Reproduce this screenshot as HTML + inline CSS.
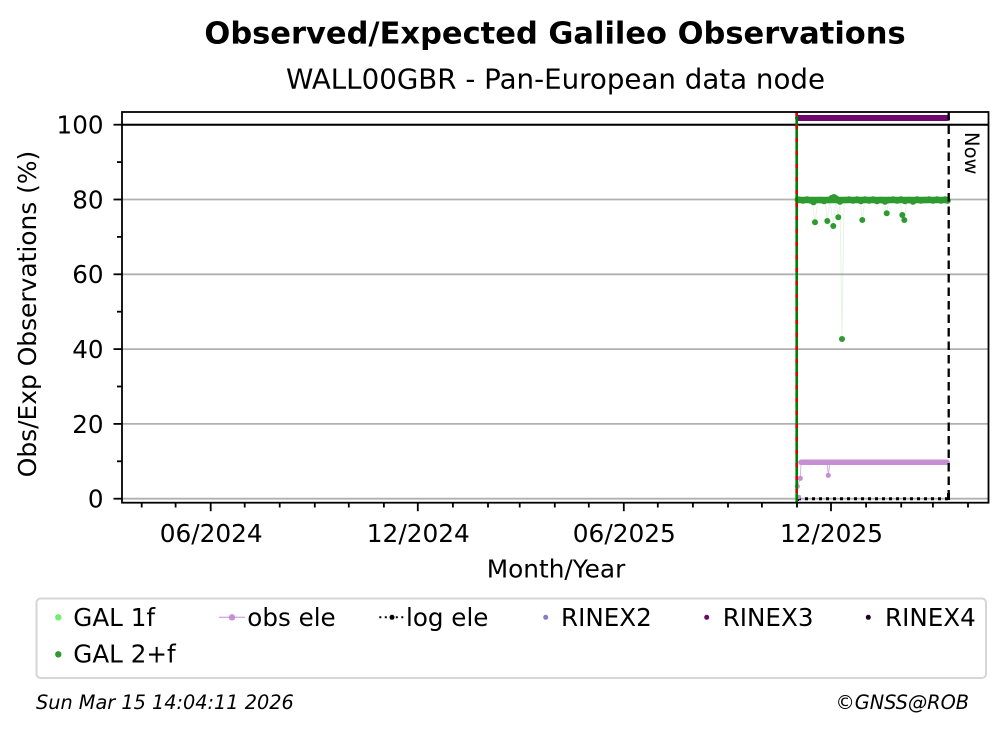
<!DOCTYPE html>
<html>
<head>
<meta charset="utf-8">
<style>
html,body{margin:0;padding:0;background:#fff;}
svg{display:block;}
text{font-family:"DejaVu Sans","Liberation Sans",sans-serif;fill:#000;}
</style>
</head>
<body>
<svg width="1008" height="734" viewBox="0 0 1008 734" xmlns="http://www.w3.org/2000/svg">
<rect x="0" y="0" width="1008" height="734" fill="#fff"/>

<!-- Titles -->
<text x="555" y="43.3" font-size="30.5" font-weight="bold" text-anchor="middle">Observed/Expected Galileo Observations</text>
<text x="555.5" y="88.3" font-size="27.7" text-anchor="middle">WALL00GBR - Pan-European data node</text>

<!-- Grid -->
<g stroke="#b0b0b0" stroke-width="1.8">
<line x1="122" y1="498.7" x2="988.5" y2="498.7"/>
<line x1="122" y1="423.9" x2="988.5" y2="423.9"/>
<line x1="122" y1="349.1" x2="988.5" y2="349.1"/>
<line x1="122" y1="274.3" x2="988.5" y2="274.3"/>
<line x1="122" y1="199.5" x2="988.5" y2="199.5"/>
<line x1="122" y1="124.7" x2="988.5" y2="124.7"/>
</g>
<!-- 100% line -->
<line x1="122" y1="124.7" x2="988.5" y2="124.7" stroke="#000" stroke-width="2"/>

<!-- log ele dotted -->
<line x1="798" y1="498.7" x2="948" y2="498.7" stroke="#000" stroke-width="3" stroke-dasharray="3 4"/>
<rect x="947" y="493" width="3" height="7" fill="#000"/>
<rect x="795.5" y="496" width="3.5" height="5" fill="#000"/>

<!-- obs ele -->
<polyline points="797,497 797.3,486.3 800.3,478.3 801,462.3 827,462.3 828.3,475.3 830,462.3" fill="none" stroke="#c490d1" stroke-width="1" stroke-opacity="0.7"/>
<line x1="801" y1="462.3" x2="947" y2="462.3" stroke="#c490d1" stroke-width="5.5" stroke-linecap="round"/>
<g fill="#c490d1">
<circle cx="797.3" cy="486.3" r="2.6"/>
<circle cx="800.3" cy="478.3" r="2.6"/>
<circle cx="828.3" cy="475.3" r="2.6"/>
<circle cx="799" cy="497" r="2.2"/>
</g>

<!-- GAL 2+f faint connecting lines -->
<polyline points="812,200 815,222.3 818,200 825,200 827.3,221 830,200 833.3,226 836,200 838.3,217.3 840,200 842,339 844,200 860,200 862.3,220 865,200 884,200 886.7,213.3 889,200 900,200 902.3,215 904.3,220 907,200" fill="none" stroke="#2f9a2f" stroke-width="1" stroke-opacity="0.12"/>

<!-- GAL 2+f band -->
<line x1="798" y1="200" x2="947" y2="200" stroke="#2f9a2f" stroke-width="6.5" stroke-linecap="round"/>
<g fill="#2f9a2f">
<circle cx="798" cy="199.5" r="3.3"/>
<circle cx="803" cy="200.5" r="3.3"/>
<circle cx="807" cy="199.5" r="3.3"/>
<circle cx="811" cy="200.5" r="3.3"/>
<circle cx="813.5" cy="202" r="3.3"/>
<circle cx="820" cy="200" r="3.3"/>
<circle cx="824" cy="201" r="3.3"/>
<circle cx="828" cy="200" r="3.3"/>
<circle cx="832" cy="198" r="3.3"/>
<circle cx="834" cy="197.3" r="3.3"/>
<circle cx="836" cy="198.5" r="3.3"/>
<circle cx="840" cy="201.5" r="3.3"/>
<circle cx="845" cy="200" r="3.3"/>
<circle cx="849" cy="199.5" r="3.3"/>
<circle cx="853" cy="200.5" r="3.3"/>
<circle cx="857" cy="199.5" r="3.3"/>
<circle cx="861" cy="201" r="3.3"/>
<circle cx="865" cy="199.5" r="3.3"/>
<circle cx="869" cy="200.5" r="3.3"/>
<circle cx="873" cy="199.5" r="3.3"/>
<circle cx="877" cy="201" r="3.3"/>
<circle cx="881" cy="200" r="3.3"/>
<circle cx="885" cy="201.5" r="3.3"/>
<circle cx="889" cy="200" r="3.3"/>
<circle cx="893" cy="199.5" r="3.3"/>
<circle cx="897" cy="200.5" r="3.3"/>
<circle cx="901" cy="199.5" r="3.3"/>
<circle cx="905" cy="201" r="3.3"/>
<circle cx="909" cy="200" r="3.3"/>
<circle cx="913" cy="201.5" r="3.3"/>
<circle cx="917" cy="199.5" r="3.3"/>
<circle cx="921" cy="200.5" r="3.3"/>
<circle cx="925" cy="200" r="3.3"/>
<circle cx="929" cy="199.5" r="3.3"/>
<circle cx="933" cy="200.5" r="3.3"/>
<circle cx="937" cy="199.5" r="3.3"/>
<circle cx="941" cy="200.5" r="3.3"/>
<circle cx="945" cy="199.5" r="3.3"/>
<circle cx="947.5" cy="200.5" r="3.3"/>
<!-- outliers -->
<circle cx="815" cy="222.3" r="3"/>
<circle cx="827.3" cy="221" r="3"/>
<circle cx="833.3" cy="226" r="3"/>
<circle cx="838.3" cy="217.3" r="3"/>
<circle cx="862.3" cy="220" r="3"/>
<circle cx="886.7" cy="213.3" r="3"/>
<circle cx="902.3" cy="215" r="3"/>
<circle cx="904.3" cy="220" r="3"/>
<circle cx="842" cy="339" r="3"/>
</g>

<!-- RINEX3 band -->
<line x1="798" y1="118" x2="947" y2="118" stroke="#6e0a6e" stroke-width="6" stroke-linecap="round"/>

<!-- start vertical line (green with red dashes) -->
<line x1="796.7" y1="112" x2="796.7" y2="502.7" stroke="#008000" stroke-width="2.6"/>
<line x1="796.7" y1="112" x2="796.7" y2="502.7" stroke="#e00000" stroke-width="2.6" stroke-dasharray="4 9"/>

<!-- Now line -->
<line x1="948.7" y1="112" x2="948.7" y2="502.7" stroke="#000" stroke-width="2.3" stroke-dasharray="8.5 5"/>
<text transform="translate(965,132) rotate(90)" font-size="19.5">Now</text>

<!-- Axes spines -->
<rect x="122" y="112" width="866.5" height="390.7" fill="none" stroke="#000" stroke-width="1.8"/>

<!-- Y ticks -->
<g stroke="#000" stroke-width="1.8">
<line x1="113.5" y1="498.7" x2="122" y2="498.7"/>
<line x1="113.5" y1="423.9" x2="122" y2="423.9"/>
<line x1="113.5" y1="349.1" x2="122" y2="349.1"/>
<line x1="113.5" y1="274.3" x2="122" y2="274.3"/>
<line x1="113.5" y1="199.5" x2="122" y2="199.5"/>
<line x1="113.5" y1="124.7" x2="122" y2="124.7"/>
<line x1="117" y1="461.3" x2="122" y2="461.3"/>
<line x1="117" y1="386.5" x2="122" y2="386.5"/>
<line x1="117" y1="311.7" x2="122" y2="311.7"/>
<line x1="117" y1="236.9" x2="122" y2="236.9"/>
<line x1="117" y1="162.1" x2="122" y2="162.1"/>
</g>
<g font-size="24.6" text-anchor="end">
<text x="103.5" y="507.6">0</text>
<text x="103.5" y="432.8">20</text>
<text x="103.5" y="358">40</text>
<text x="103.5" y="283.2">60</text>
<text x="103.5" y="208.4">80</text>
<text x="103.5" y="133.6">100</text>
</g>
<text transform="translate(36,314) rotate(-90)" font-size="24.9" text-anchor="middle">Obs/Exp Observations (%)</text>

<!-- X ticks -->
<g stroke="#000" stroke-width="1.8">
<line x1="210.7" y1="502.7" x2="210.7" y2="511.2"/>
<line x1="417.8" y1="502.7" x2="417.8" y2="511.2"/>
<line x1="623.8" y1="502.7" x2="623.8" y2="511.2"/>
<line x1="831" y1="502.7" x2="831" y2="511.2"/>
<line x1="141.7" y1="502.7" x2="141.7" y2="507.5"/>
<line x1="175.6" y1="502.7" x2="175.6" y2="507.5"/>
<line x1="244.7" y1="502.7" x2="244.7" y2="507.5"/>
<line x1="279.7" y1="502.7" x2="279.7" y2="507.5"/>
<line x1="314.8" y1="502.7" x2="314.8" y2="507.5"/>
<line x1="348.8" y1="502.7" x2="348.8" y2="507.5"/>
<line x1="383.9" y1="502.7" x2="383.9" y2="507.5"/>
<line x1="452.9" y1="502.7" x2="452.9" y2="507.5"/>
<line x1="488" y1="502.7" x2="488" y2="507.5"/>
<line x1="519.7" y1="502.7" x2="519.7" y2="507.5"/>
<line x1="554.8" y1="502.7" x2="554.8" y2="507.5"/>
<line x1="588.8" y1="502.7" x2="588.8" y2="507.5"/>
<line x1="657.8" y1="502.7" x2="657.8" y2="507.5"/>
<line x1="692.9" y1="502.7" x2="692.9" y2="507.5"/>
<line x1="728" y1="502.7" x2="728" y2="507.5"/>
<line x1="761.9" y1="502.7" x2="761.9" y2="507.5"/>
<line x1="797" y1="502.7" x2="797" y2="507.5"/>
<line x1="866.1" y1="502.7" x2="866.1" y2="507.5"/>
<line x1="901.2" y1="502.7" x2="901.2" y2="507.5"/>
<line x1="932.9" y1="502.7" x2="932.9" y2="507.5"/>
<line x1="968" y1="502.7" x2="968" y2="507.5"/>
</g>
<g font-size="24.8" text-anchor="middle">
<text x="211.2" y="541.8">06/2024</text>
<text x="418.3" y="541.8">12/2024</text>
<text x="624.3" y="541.8">06/2025</text>
<text x="831.5" y="541.8">12/2025</text>
</g>
<text x="556" y="577.3" font-size="24.8" text-anchor="middle">Month/Year</text>

<!-- Legend -->
<rect x="36.5" y="598.5" width="949.5" height="79.5" rx="4" ry="4" fill="#fff" stroke="#d6d6d6" stroke-width="2"/>
<g font-size="24.6">
<circle cx="58.3" cy="617.3" r="3.2" fill="#6ef06e"/>
<text x="73.3" y="626">GAL 1f</text>

<line x1="219" y1="617.3" x2="245" y2="617.3" stroke="#c490d1" stroke-width="1"/>
<circle cx="232" cy="617.3" r="3.2" fill="#c490d1"/>
<text x="247.3" y="626">obs ele</text>

<line x1="379.3" y1="617.3" x2="405" y2="617.3" stroke="#000" stroke-width="2" stroke-dasharray="2 3.5"/>
<circle cx="392" cy="617.3" r="2.5" fill="#000"/>
<text x="406" y="626">log ele</text>

<circle cx="545.7" cy="617.3" r="2.5" fill="#7f7fc4"/>
<text x="561" y="626">RINEX2</text>

<circle cx="706.7" cy="617.3" r="2.5" fill="#6b0a6b"/>
<text x="722.7" y="626">RINEX3</text>

<circle cx="868.3" cy="617.3" r="2.5" fill="#200020"/>
<text x="885" y="626">RINEX4</text>

<circle cx="58.3" cy="654.3" r="3.2" fill="#2f9a2f"/>
<text x="73.3" y="662.7">GAL 2+f</text>
</g>

<!-- Footer -->
<text x="36" y="709" font-size="19.3" font-style="italic">Sun Mar 15 14:04:11 2026</text>
<text x="969" y="709" font-size="19.3" font-style="italic" text-anchor="end">©GNSS@ROB</text>
</svg>
</body>
</html>
